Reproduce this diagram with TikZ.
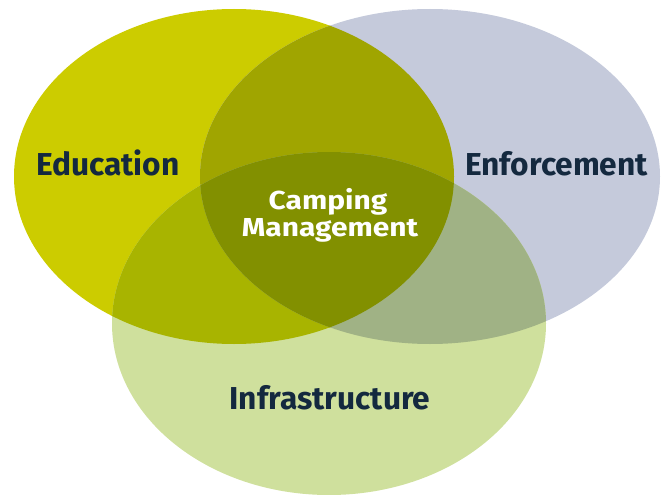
\documentclass[tikz,border=0pt]{standalone}
\usepackage{fontspec}
\setmainfont{Fira Sans}
\newfontfamily\centerfont[FakeStretch=1.15]{Fira Sans}
\definecolor{educol}{HTML}{CCCC00}
\definecolor{enfcol}{HTML}{C5CADB}
\definecolor{infcol}{HTML}{CFE09D}
\definecolor{eduenf}{HTML}{A0A500}
\definecolor{eduinf}{HTML}{A8B400}
\definecolor{enfinf}{HTML}{A0B285}
\definecolor{allcol}{HTML}{829000}
\definecolor{navy}{HTML}{14293F}
\begin{document}
\begin{tikzpicture}[x=1pt,y=-1pt,
  label/.style={font=\fontsize{31.7}{31.7}\selectfont\bfseries, text=navy, inner sep=0pt, anchor=base},
  centerlabel/.style={font=\centerfont\fontsize{26}{26}\selectfont\bfseries, text=white, inner sep=0pt, anchor=base}]
\useasboundingbox (0,0) rectangle (667,495);
\def\edupath{(234,176.5) ellipse [x radius=220, y radius=167.5]}
\def\enfpath{(430,176.5) ellipse [x radius=230, y radius=167.5]}
\def\infpath{(329,323.5) ellipse [x radius=217, y radius=171.5]}
\fill[educol] \edupath;
\fill[enfcol] \enfpath;
\fill[infcol] \infpath;
\begin{scope}
  \clip \edupath;
  \fill[eduenf] \enfpath;
  \fill[eduinf] \infpath;
\end{scope}
\begin{scope}
  \clip \enfpath;
  \fill[enfinf] \infpath;
\end{scope}
\begin{scope}
  \clip \edupath;
  \clip \enfpath;
  \fill[allcol] \infpath;
\end{scope}
\node[label] (edu) at (108,175) {Education};
\node[label] (enf) at (556.5,175) {Enforcement};
\node[label] (inf) at (330,409) {Infrastructure};
\node[centerlabel] (camp) at (328,209) {Camping};
\node[centerlabel] (mgmt) at (330,236) {Management};
\end{tikzpicture}
\end{document}
